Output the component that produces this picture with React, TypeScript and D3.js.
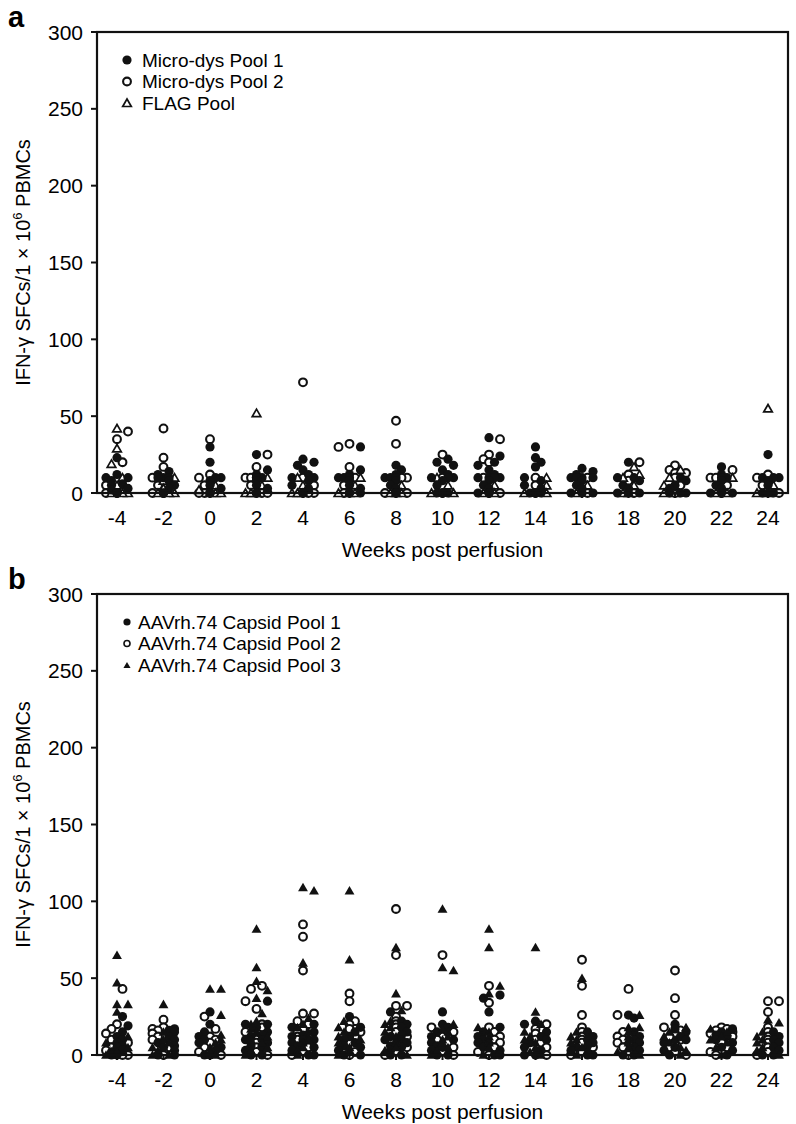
import React from 'react';
import * as d3 from 'd3';

// weeks post perfusion (x categories)
const weeks = [-4, -2, 0, 2, 4, 6, 8, 10, 12, 14, 16, 18, 20, 22, 24];
const yTicks = [0, 50, 100, 150, 200, 250, 300];

// Panel a: one array of readings per week
const microPool1 = [
  [23, 12, 10, 10, 8, 6, 5, 3, 2, 0, 0, 0],
  [14, 12, 10, 10, 10, 8, 5, 3, 0, 0, 0],
  [30, 20, 10, 10, 8, 5, 3, 0, 0, 0],
  [25, 15, 12, 10, 10, 10, 10, 8, 5, 3, 0, 0, 0],
  [22, 20, 18, 15, 12, 10, 10, 8, 5, 3, 0, 0, 0],
  [30, 15, 12, 10, 10, 10, 8, 5, 3, 0, 0, 0],
  [18, 15, 12, 10, 10, 10, 8, 5, 3, 0, 0, 0],
  [22, 20, 18, 15, 12, 10, 10, 10, 8, 5, 0, 0, 0],
  [36, 24, 20, 18, 15, 12, 10, 10, 10, 10, 8, 5, 3, 0, 0, 0],
  [30, 23, 20, 17, 10, 8, 5, 3, 0, 0, 0],
  [16, 14, 12, 10, 10, 10, 10, 8, 5, 3, 0, 0, 0],
  [20, 10, 10, 8, 5, 3, 0, 0, 0],
  [10, 8, 5, 3, 0, 0, 0],
  [17, 12, 10, 10, 8, 5, 3, 0, 0, 0],
  [25, 10, 10, 10, 8, 5, 0, 0, 0],
];
const microPool2 = [
  [40, 35, 20, 8, 5, 2, 0, 0],
  [42, 23, 17, 10, 5, 0, 0],
  [35, 12, 10, 5, 0, 0],
  [25, 17, 10, 10, 5, 0, 0],
  [72, 10, 5, 0, 0],
  [32, 30, 17, 10, 5, 0],
  [47, 32, 10, 10, 0, 0],
  [25, 10, 0],
  [35, 25, 22, 20, 10, 0, 0],
  [10, 5, 0],
  [10, 0],
  [20, 12, 8, 0],
  [18, 15, 13, 13, 10, 5, 0],
  [15, 10, 10, 5, 0],
  [12, 10, 5, 0],
];
const flagPool = [
  [42, 29, 19, 10, 5, 2, 0, 0, 0],
  [10, 8, 3, 0, 0, 0],
  [5, 2, 0, 0, 0],
  [52, 10, 5, 0, 0, 0],
  [10, 5, 0, 0, 0],
  [10, 5, 0, 0, 0],
  [5, 0, 0, 0],
  [10, 5, 0, 0],
  [5, 0, 0],
  [10, 5, 0, 0],
  [5, 0],
  [17, 12, 10, 5, 0, 0],
  [15, 10, 5, 0, 0],
  [10, 0, 0],
  [55, 5, 0, 0],
];

// Panel b
const capsidPool1 = [
  [25, 19, 15, 12, 10, 8, 6, 5, 3, 2, 0, 0],
  [17, 16, 15, 12, 10, 8, 6, 5, 3, 0, 0],
  [28, 20, 15, 12, 10, 8, 5, 3, 0, 0],
  [35, 20, 20, 18, 15, 13, 12, 10, 10, 8, 6, 5, 3, 0, 0],
  [20, 18, 15, 13, 12, 10, 10, 8, 6, 5, 3, 0, 0],
  [25, 18, 15, 12, 10, 8, 6, 5, 3, 0, 0],
  [28, 22, 20, 18, 15, 13, 12, 10, 10, 8, 6, 5, 3, 0, 0],
  [28, 20, 18, 15, 12, 10, 8, 6, 5, 3, 0, 0],
  [39, 37, 28, 18, 15, 12, 10, 8, 5, 3, 0, 0],
  [22, 20, 15, 12, 10, 8, 5, 3, 0, 0],
  [15, 12, 10, 8, 6, 5, 3, 0, 0],
  [26, 24, 15, 12, 10, 8, 5, 3, 0, 0],
  [20, 17, 15, 12, 10, 8, 5, 3, 0],
  [17, 15, 13, 12, 10, 8, 5, 3, 0],
  [15, 12, 10, 8, 5, 3, 0, 0],
];
const capsidPool2 = [
  [43, 20, 17, 14, 10, 8, 5, 3, 0, 0],
  [23, 18, 17, 16, 14, 12, 10, 8, 5, 2, 0],
  [25, 17, 12, 10, 8, 5, 2, 0],
  [45, 43, 35, 30, 20, 18, 15, 12, 10, 8, 5, 2, 0],
  [85, 77, 55, 27, 27, 22, 20, 17, 15, 12, 10, 8, 5, 2, 0],
  [40, 35, 22, 20, 17, 15, 12, 10, 8, 5, 2, 0],
  [95, 65, 32, 32, 25, 22, 20, 18, 15, 12, 10, 8, 5, 2, 0],
  [65, 18, 15, 12, 10, 8, 5, 2, 0],
  [45, 34, 18, 15, 12, 10, 8, 5, 2, 0],
  [20, 17, 14, 10, 8, 5, 0],
  [62, 45, 26, 18, 15, 12, 10, 8, 5, 2, 0],
  [43, 26, 15, 12, 10, 8, 5, 0],
  [55, 37, 26, 18, 16, 14, 12, 10, 8, 5, 2, 0],
  [18, 17, 16, 15, 14, 12, 10, 8, 5, 2, 0],
  [35, 35, 28, 18, 15, 12, 10, 8, 5, 2, 0],
];
const capsidPool3 = [
  [65, 47, 33, 33, 28, 12, 8, 5, 2, 0],
  [33, 15, 10, 8, 5, 3, 0, 0],
  [43, 43, 26, 13, 10, 8, 5, 2, 0],
  [82, 57, 48, 42, 37, 27, 22, 20, 17, 15, 12, 10, 8, 5, 3, 0],
  [109, 107, 60, 24, 20, 18, 15, 12, 10, 8, 5, 3, 0],
  [107, 62, 22, 18, 15, 12, 10, 8, 5, 2, 0],
  [70, 40, 29, 22, 20, 18, 15, 12, 10, 8, 5, 3, 0],
  [95, 57, 55, 20, 17, 15, 12, 10, 8, 5, 3, 0],
  [82, 70, 45, 40, 18, 15, 12, 10, 8, 5, 0],
  [70, 28, 20, 15, 12, 10, 8, 5, 2, 0],
  [50, 15, 12, 10, 8, 5, 3, 0],
  [26, 18, 18, 15, 12, 10, 8, 5, 2, 0],
  [18, 15, 12, 10, 8, 5, 3, 0],
  [17, 15, 12, 10, 8, 5, 0],
  [23, 21, 15, 12, 10, 8, 5, 3, 0],
];

const FONT = "Arial, 'Liberation Sans', Helvetica, sans-serif";
const LEFT = 97;
const RIGHT = 788;

type Kind = 'dot' | 'ring' | 'tri' | 'triFill';
type Series = { name: string; kind: Kind; data: number[][] };

const x = d3.scaleLinear().domain([-4.86, 24.86]).range([LEFT, RIGHT]);

// spread points of one week sideways (narrow column, overlap allowed)
function dodge(series: Series[], wi: number, y: d3.ScaleLinear<number, number>) {
  const pts: { s: number; v: number }[] = [];
  const n = d3.max(series, (s) => s.data[wi].length) || 0;
  for (let i = 0; i < n; i++) {
    series.forEach((s, si) => {
      if (i < s.data[wi].length) pts.push({ s: si, v: s.data[wi][i] });
    });
  }
  pts.sort((a, b) => b.v - a.v);
  const cx = x(weeks[wi]);
  const step = 5.5;
  const minD = 6.5;
  const slots = [0, 1, -1, 2, -2];
  const placed: { s: number; v: number; px: number; py: number }[] = [];
  pts.forEach((p) => {
    const py = y(p.v);
    let best = cx;
    let bestD = -1;
    for (const k of slots) {
      const px = cx + k * step;
      let d = Infinity;
      placed.forEach((q) => {
        d = Math.min(d, Math.hypot(q.px - px, q.py - py));
      });
      if (d >= minD) {
        best = px;
        bestD = d;
        break;
      }
      if (d > bestD + 1.5) {
        bestD = d;
        best = px;
      }
    }
    placed.push({ ...p, px: best, py });
  });
  return placed;
}

const triPath = (size: number) => d3.symbol(d3.symbolTriangle, size)() as string;

function Marker({ kind, cx, cy, small }: { kind: Kind; cx: number; cy: number; small?: boolean }) {
  if (kind === 'dot') return <circle cx={cx} cy={cy} r={small ? 3.6 : 4.6} fill="#111" />;
  if (kind === 'ring')
    return <circle cx={cx} cy={cy} r={small ? 3 : 3.9} fill="#fff" stroke="#111" strokeWidth={small ? 1.6 : 2.1} />;
  if (kind === 'tri')
    return <path d={triPath(small ? 26 : 32)} transform={`translate(${cx},${cy + 1})`} fill="#fff" stroke="#111" strokeWidth={1.7} />;
  return <path d={triPath(small ? 22 : 42)} transform={`translate(${cx},${cy + 1})`} fill="#111" />;
}

function Panel({ top, label, series, drawOrder, legendX }: {
  top: number; label: string; series: Series[]; drawOrder: number[]; legendX: number;
}) {
  const bottom = top + 461;
  const y = d3.scaleLinear().domain([0, 300]).range([bottom, top]);
  const pts = weeks.flatMap((_, wi) => dodge(series, wi, y));
  const small = label === 'b';
  const cy = (top + bottom) / 2;

  return (
    <g fontFamily={FONT} fill="#000">
      <text x={8} y={top - 5} fontSize={29} fontWeight="bold">{label}</text>

      {/* data */}
      {drawOrder.map((si) => (
        <g key={si}>
          {pts.filter((p) => p.s === si).map((p, i) => (
            <Marker key={i} kind={series[si].kind} cx={p.px} cy={p.py} />
          ))}
        </g>
      ))}

      {/* frame */}
      <rect x={LEFT} y={top} width={RIGHT - LEFT} height={bottom - top} fill="none" stroke="#111" strokeWidth={2.2} />

      {/* y axis */}
      {yTicks.map((t) => (
        <g key={t}>
          <line x1={LEFT - 6} x2={LEFT} y1={y(t)} y2={y(t)} stroke="#111" strokeWidth={2} />
          <text x={83} y={y(t)} dy="0.36em" fontSize={21} textAnchor="end">{t}</text>
        </g>
      ))}
      <text transform={`translate(30,${cy}) rotate(-90)`} fontSize={20} textAnchor="middle">
        <tspan>IFN-γ SFCs/1 × 10</tspan>
        <tspan dy={-8} fontSize={13}>6</tspan>
        <tspan dy={8}> PBMCs</tspan>
      </text>

      {/* x axis */}
      {weeks.map((w) => (
        <g key={w}>
          <line x1={x(w)} x2={x(w)} y1={bottom} y2={bottom + 5} stroke="#111" strokeWidth={2} />
          <text x={x(w)} y={bottom + 32} fontSize={21} textAnchor="middle">{w}</text>
        </g>
      ))}
      <text x={(LEFT + RIGHT) / 2} y={bottom + 64} fontSize={21} textAnchor="middle">Weeks post perfusion</text>

      {/* legend */}
      {series.map((s, i) => {
        const ly = top + 28 + i * 21.5;
        return (
          <g key={s.name}>
            <Marker kind={s.kind} cx={127} cy={ly} small={small} />
            <text x={legendX} y={ly} dy="0.36em" fontSize={19}>{s.name}</text>
          </g>
        );
      })}
    </g>
  );
}

export default function App() {
  const seriesA: Series[] = [
    { name: 'Micro-dys Pool 1', kind: 'dot', data: microPool1 },
    { name: 'Micro-dys Pool 2', kind: 'ring', data: microPool2 },
    { name: 'FLAG Pool', kind: 'tri', data: flagPool },
  ];
  const seriesB: Series[] = [
    { name: 'AAVrh.74 Capsid Pool 1', kind: 'dot', data: capsidPool1 },
    { name: 'AAVrh.74 Capsid Pool 2', kind: 'ring', data: capsidPool2 },
    { name: 'AAVrh.74 Capsid Pool 3', kind: 'triFill', data: capsidPool3 },
  ];
  return (
    <svg width={796} height={1124} style={{ position: 'absolute', left: 0, top: 0, background: '#fff' }}>
      <rect width={796} height={1124} fill="#fff" />
      <Panel top={32} label="a" series={seriesA} drawOrder={[1, 2, 0]} legendX={142} />
      <Panel top={594} label="b" series={seriesB} drawOrder={[1, 0, 2]} legendX={138} />
    </svg>
  );
}
